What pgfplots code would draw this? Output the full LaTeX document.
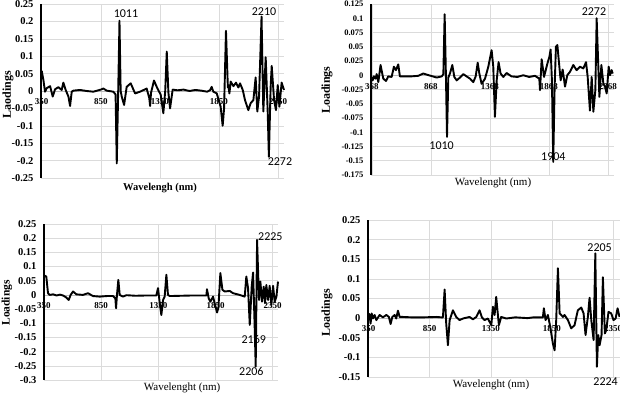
\documentclass[border=0pt]{standalone}
\usepackage{fontspec}
\setmainfont{Liberation Serif}
\newfontfamily\calibri{Carlito}
\usepackage{pgfplots}
\pgfplotsset{compat=1.18}
\pgfplotsset{
 panel/.style={
  scale only axis, anchor=south west, clip=false,
  axis x line=middle, axis y line=left,
  hide obscured x ticks=false, hide obscured y ticks=false,
  x axis line style={-, draw=gray!55, line width=0.5pt},
  y axis line style={-, draw=black, line width=2pt},
  major tick length=0pt,
  grid=major, major grid style={draw=black!14, line width=0.5pt},
  yticklabel style={font=\bfseries\fontsize{10.5}{10.5}\selectfont, xshift=-4pt},
  xticklabel style={font=\bfseries\fontsize{9}{9}\selectfont, yshift=-4pt},
 },
}
\tikzset{ann/.style={font=\calibri\fontsize{12}{12}\selectfont},
 curve/.style={black, line width=1.9pt, line join=round, mark=none}}
\begin{document}
\begin{tikzpicture}
\path[use as bounding box] (0pt,0pt) rectangle (620pt,398pt);

% Panel 1
\begin{axis}[panel, at={(41pt,220pt)}, width=243pt, height=174pt,
  xmin=344, xmax=2400, ymin=-0.25, ymax=0.25,
  xtick={350,850,1350,1850,2350}, xticklabels={350,850,1350,1850,2350},
  ytick={-0.25,-0.2,-0.15,-0.1,-0.05,0,0.05,0.1,0.15,0.2,0.25},
  yticklabels={-0.25,-0.2,-0.15,-0.1,-0.05,0,0.05,0.1,0.15,0.2,0.25},
  xlabel={Wavelengh (nm)}, ylabel={Laodings},
  xlabel style={at={(axis description cs:0.49,-0.057)}, anchor=center, font=\bfseries\fontsize{10.5}{10.5}\selectfont},
  ylabel style={at={(axis description cs:-0.136,0.477)}, anchor=center, font=\bfseries\fontsize{12}{12}\selectfont},
]
\addplot[curve] coordinates {(350,0.058)(365,0.03)(378,-0.002)(392,0.008)(421,0.014)(443,-0.016)(463,0.005)(491,0.011)(519,0.003)(533,0.024)(553,0.003)(576,-0.016)(590,-0.043)(604,-0.002)(618,0.001)(674,0.003)(730,0.0)(787,-0.002)(850,0.004)(872,0.007)(900,0.001)(956,-0.002)(975,-0.01)(985,-0.208)(1000,0.05)(1008,0.202)(1018,0.0)(1027,-0.016)(1047,-0.04)(1069,0.012)(1103,0.022)(1140,-0.007)(1182,-0.002)(1238,0.007)(1260,-0.02)(1267,-0.043)(1275,-0.005)(1300,0.03)(1323,0.012)(1357,-0.011)(1379,-0.064)(1395,0.0)(1408,0.113)(1422,-0.005)(1436,-0.05)(1458,0.004)(1500,0.002)(1550,0.004)(1600,0.0)(1650,0.003)(1700,0.001)(1750,-0.002)(1774,0.002)(1788,0.012)(1802,-0.002)(1831,-0.007)(1864,-0.045)(1881,-0.1)(1893,-0.05)(1909,0.173)(1925,0.01)(1929,0.017)(1938,-0.007)(1949,0.027)(1972,0.014)(1994,0.024)(2014,0.01)(2028,0.022)(2051,0.003)(2070,-0.026)(2098,-0.055)(2118,-0.035)(2141,-0.026)(2160,0.039)(2174,-0.059)(2189,-0.016)(2210,0.214)(2225,-0.059)(2245,0.097)(2262,-0.059)(2272,-0.189)(2287,0.012)(2296,0.072)(2316,-0.026)(2332,-0.055)(2347,0.017)(2361,-0.045)(2380,0.024)(2400,0.003)};
\node[ann] at (axis cs:1063,0.221) {1011};
\node[ann] at (axis cs:2231,0.227) {2210};
\node[ann] at (axis cs:2366,-0.204) {2272};
\end{axis}

% Panel 2
\begin{axis}[panel, at={(371pt,223pt)}, width=243pt, height=171pt,
  xmin=360, xmax=2419, ymin=-0.175, ymax=0.125,
  xtick={368,868,1368,1868,2368}, xticklabels={368,868,1368,1868,2368},
  ytick={-0.175,-0.15,-0.125,-0.1,-0.075,-0.05,-0.025,0,0.025,0.05,0.075,0.1,0.125},
  yticklabels={-0.175,-0.15,-0.125,-0.1,-0.075,-0.05,-0.025,0,0.025,0.05,0.075,0.1,0.125},
  yticklabel style={font=\bfseries\fontsize{8.5}{8.5}\selectfont, xshift=0pt},
  xticklabel style={yshift=-1pt},
  xlabel={Wavelenght (nm)}, ylabel={Loadings},
  xlabel style={at={(axis description cs:0.502,-0.047)}, anchor=center, font=\fontsize{11}{11}\selectfont},
  ylabel style={at={(axis description cs:-0.181,0.497)}, anchor=center, font=\bfseries\fontsize{12}{12}\selectfont},
]
\addplot[curve] coordinates {(365,-0.003)(374,-0.009)(385,-0.002)(399,-0.006)(408,0.002)(422,-0.012)(441,0.018)(464,-0.006)(487,-0.01)(506,-0.002)(535,-0.003)(554,0.015)(571,0.009)(591,0.019)(605,-0.002)(619,-0.002)(700,-0.002)(760,-0.001)(803,0.003)(850,0.0)(916,-0.004)(960,-0.002)(973,0.002)(984,0.107)(995,-0.003)(1004,-0.108)(1015,-0.004)(1029,0.003)(1049,0.018)(1066,-0.003)(1086,-0.009)(1114,-0.004)(1142,0.002)(1170,-0.002)(1199,-0.006)(1227,-0.012)(1247,-0.002)(1264,0.022)(1278,0.003)(1297,-0.015)(1326,-0.006)(1354,0.015)(1382,0.044)(1396,0.015)(1410,-0.073)(1425,-0.009)(1441,0.023)(1458,0.003)(1481,-0.003)(1509,0.004)(1550,-0.002)(1600,-0.003)(1650,0.0)(1700,-0.003)(1750,-0.001)(1786,-0.006)(1792,-0.026)(1806,0.028)(1826,-0.003)(1854,0.02)(1871,0.032)(1882,0.045)(1893,-0.009)(1904,-0.152)(1916,-0.02)(1927,0.05)(1939,0.053)(1956,0.015)(1967,-0.009)(1984,0.01)(2004,-0.02)(2023,0.0)(2046,0.006)(2074,0.018)(2102,0.009)(2131,0.015)(2159,0.012)(2182,0.023)(2196,-0.003)(2215,-0.062)(2230,-0.003)(2244,-0.064)(2261,-0.026)(2272,0.1)(2295,-0.038)(2312,0.018)(2329,-0.015)(2343,-0.02)(2357,-0.032)(2374,0.015)(2385,0.0)(2399,0.009)(2408,0.003)};
\node[ann] at (axis cs:958,-0.124) {1010};
\node[ann] at (axis cs:1905,-0.142) {1904};
\node[ann] at (axis cs:2249,0.1125) {2272};
\end{axis}

% Panel 3
\begin{axis}[panel, at={(44pt,18pt)}, width=234pt, height=156pt,
  xmin=350, xmax=2396, ymin=-0.3, ymax=0.25,
  xtick={350,850,1350,1850,2350}, xticklabels={350,850,1350,1850,2350},
  ytick={-0.3,-0.25,-0.2,-0.15,-0.1,-0.05,0,0.05,0.1,0.15,0.2,0.25},
  yticklabels={-0.3,-0.25,-0.2,-0.15,-0.1,-0.05,0,0.05,0.1,0.15,0.2,0.25},
  xlabel={Wavelenght (nm)}, ylabel={Loadings},
  xlabel style={at={(axis description cs:0.59,-0.051)}, anchor=center, font=\fontsize{11}{11}\selectfont},
  ylabel style={at={(axis description cs:-0.158,0.494)}, anchor=center, font=\bfseries\fontsize{11.5}{11.5}\selectfont},
]
\addplot[curve] coordinates {(350,0.067)(360,0.067)(370,0.065)(385,0.006)(400,0.0)(430,0.002)(460,-0.002)(490,0.001)(516,-0.002)(545,-0.009)(566,-0.018)(583,0.0)(604,0.012)(633,0.002)(691,0.0)(735,0.006)(778,-0.004)(837,-0.006)(900,-0.004)(953,-0.004)(974,-0.012)(980,-0.047)(988,0.0)(1000,0.053)(1012,0.0)(1041,-0.006)(1070,-0.001)(1150,-0.003)(1250,-0.002)(1332,-0.002)(1347,0.024)(1362,-0.029)(1376,-0.071)(1391,-0.018)(1405,-0.006)(1420,0.071)(1434,0.0)(1449,-0.004)(1550,-0.003)(1650,-0.002)(1770,-0.002)(1775,0.02)(1790,-0.012)(1805,-0.024)(1828,-0.006)(1842,-0.029)(1863,-0.062)(1875,-0.045)(1892,0.077)(1910,0.018)(1930,0.012)(1974,0.014)(2003,0.006)(2061,0.0)(2105,-0.006)(2119,0.065)(2134,0.024)(2149,-0.106)(2166,0.029)(2178,0.079)(2192,-0.112)(2201,-0.253)(2213,0.194)(2230,-0.018)(2242,0.047)(2256,-0.024)(2271,0.029)(2283,-0.029)(2294,0.035)(2309,-0.018)(2323,0.032)(2338,-0.035)(2353,0.032)(2367,-0.024)(2382,-0.006)(2396,0.047)};
\node[ann] at (axis cs:2329,0.206) {2225};
\node[ann] at (axis cs:2184,-0.157) {2169};
\node[ann] at (axis cs:2163,-0.271) {2206};
\end{axis}

% Panel 4
\begin{axis}[panel, at={(368pt,21pt)}, width=252pt, height=157pt,
  xmin=345, xmax=2407, ymin=-0.15, ymax=0.25,
  xtick={350,850,1350,1850,2350}, xticklabels={350,850,1350,1850,2350},
  ytick={-0.15,-0.1,-0.05,0,0.05,0.1,0.15,0.2,0.25},
  yticklabels={-0.15,-0.1,-0.05,0,0.05,0.1,0.15,0.2,0.25},
  xlabel={Wavelenght (nm)}, ylabel={Loadings},
  xlabel style={at={(axis description cs:0.488,-0.051)}, anchor=center, font=\fontsize{11}{11}\selectfont},
  ylabel style={at={(axis description cs:-0.163,0.408)}, anchor=center, font=\bfseries\fontsize{12}{12}\selectfont},
]
\addplot[curve] coordinates {(350,0.012)(358,0.008)(366,-0.014)(375,0.012)(385,-0.001)(399,0.008)(413,-0.005)(440,0.008)(467,0.002)(495,0.008)(516,0.003)(530,-0.015)(544,0.003)(563,0.008)(576,-0.001)(590,0.019)(604,0.003)(631,0.003)(700,0.002)(800,0.002)(904,0.003)(945,0.002)(958,0.002)(972,0.073)(985,-0.014)(999,-0.069)(1013,-0.005)(1040,0.02)(1067,0.003)(1094,-0.005)(1122,-0.001)(1176,0.003)(1204,-0.003)(1231,0.003)(1258,0.02)(1277,0.002)(1299,-0.005)(1326,-0.001)(1354,-0.018)(1367,0.029)(1381,0.008)(1394,0.054)(1408,0.008)(1416,-0.018)(1435,0.003)(1476,-0.001)(1550,0.002)(1650,0.0)(1700,0.002)(1776,0.002)(1784,0.025)(1798,-0.005)(1817,0.008)(1836,-0.022)(1858,-0.065)(1872,-0.082)(1885,-0.005)(1899,0.127)(1913,0.012)(1926,0.008)(1940,0.003)(1953,0.008)(1981,-0.005)(2008,-0.026)(2035,-0.018)(2062,0.02)(2090,0.027)(2109,0.012)(2125,-0.043)(2144,0.003)(2158,0.052)(2172,-0.005)(2191,-0.056)(2205,0.165)(2218,-0.124)(2229,-0.043)(2240,-0.069)(2256,-0.043)(2267,0.104)(2283,-0.039)(2294,-0.031)(2313,0.016)(2335,0.012)(2354,-0.005)(2371,-0.001)(2387,0.025)(2403,0.003)};
\node[ann] at (axis cs:2240,0.18) {2205};
\node[ann] at (axis cs:2289,-0.163) {2224};
\end{axis}
\end{tikzpicture}
\end{document}
